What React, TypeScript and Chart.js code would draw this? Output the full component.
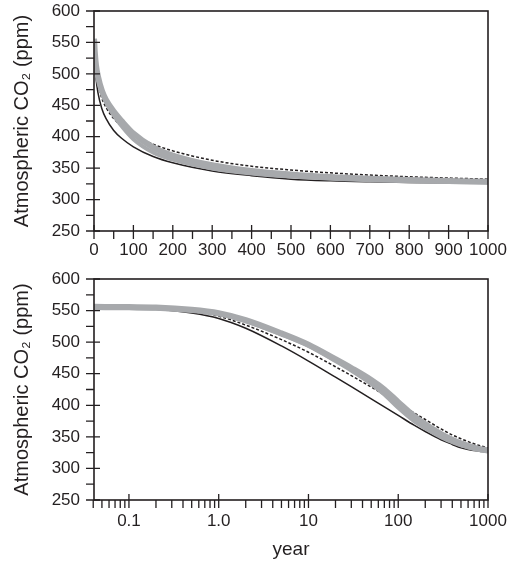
import React, { useEffect, useRef } from 'react';
import { Chart, registerables } from 'chart.js';

Chart.register(...registerables);

// ---------------- data ----------------
const years = [0.04, 0.1, 0.2, 0.5, 1, 2, 5, 10, 20, 30, 50, 70, 100, 150, 200, 300, 400, 500, 600, 700, 800, 900, 1000];
const co2Solid = [null, 554, 552, 546, 537.5, 522, 494, 470, 444.5, 429.5, 410, 397.5, 384, 368.5, 358.5, 345.5, 338, 332.5, 329.8, 328.3, 327.3, 326.6, 326];
const co2Dashed = [null, 554, 553, 548.5, 541, 527, 504, 484, 461, 447, 429, 416.5, 403.5, 388, 377.5, 362.5, 353, 347, 342.5, 339, 336.3, 334.2, 332.5];
const co2GrayBand = [556, 555.5, 555, 551.5, 546, 535, 514, 496, 473, 459, 440, 425, 405, 383, 370, 354.5, 345.5, 339.8, 335.8, 333, 331, 329.6, 328.5];
const co2WhiteLine = [554, 553.5, 553, 549.5, 544, 533, 512, 494, 470, 455, 434, 417, 396, 375, 363.5, 349.5, 341.5, 336.6, 333.2, 330.8, 329.2, 328.1, 327.3];

const yTicks = [250, 300, 350, 400, 450, 500, 550, 600];
const yMinorTicks = [275, 325, 375, 425, 475, 525, 575];
const linearXTicks = [0, 100, 200, 300, 400, 500, 600, 700, 800, 900, 1000];
const linearXMinorTicks = [50, 150, 250, 350, 450, 550, 650, 750, 850, 950];
const logXTicks = [0.1, 1, 10, 100, 1000];
const logXTickLabels = ['0.1', '1.0', '10', '100', '1000'];
const logMantissas = [2, 3, 4, 5, 6, 7, 8, 9];
const logDecades = [0.01, 0.1, 1, 10, 100];

const yTitle = 'Atmospheric CO\u2082 (ppm)';
const xTitle = 'year';

const INK = '#231f20';
const GRAY = '#a7a9ac';
const FONT = '"Liberation Sans", Arial, Helvetica, sans-serif';

const logXMinorTicks: number[] = [];
logDecades.forEach((d) => logMantissas.forEach((m) => {
  const v = +(d * m).toPrecision(3);
  if (v >= 0.04 && v <= 1000) logXMinorTicks.push(v);
}));

function pts(vals: (number | null)[]) {
  return years.map((x, i) => ({ x, y: vals[i] }));
}

function makeDatasets() {
  return [
    { data: pts(co2GrayBand), borderColor: GRAY, borderWidth: 6, pointRadius: 0, cubicInterpolationMode: 'monotone', fill: false },
    { data: pts(co2WhiteLine), borderColor: GRAY, borderWidth: 4, pointRadius: 0, cubicInterpolationMode: 'monotone', fill: false },
    { data: pts(co2WhiteLine), borderColor: '#ffffff', borderWidth: 1.8, pointRadius: 0, cubicInterpolationMode: 'monotone', fill: false },
    { data: pts(co2Dashed), borderColor: INK, borderWidth: 1.5, borderDash: [3, 2], pointRadius: 0, cubicInterpolationMode: 'monotone', fill: false },
    { data: pts(co2Solid), borderColor: INK, borderWidth: 1.5, pointRadius: 0, cubicInterpolationMode: 'monotone', fill: false },
  ];
}

function framePlugin(xMajor: number[], xMinor: number[]) {
  return {
    id: 'frameTicks',
    afterDatasetsDraw(chart: any) {
      const { ctx, chartArea: a, scales } = chart;
      const xs = scales.x;
      const ys = scales.y;
      ctx.save();
      ctx.strokeStyle = INK;
      ctx.lineWidth = 1.6;
      ctx.strokeRect(a.left, a.top, a.right - a.left, a.bottom - a.top);
      ctx.lineWidth = 1.3;
      ctx.beginPath();
      xMajor.forEach((v) => {
        const p = xs.getPixelForValue(v);
        ctx.moveTo(p, a.bottom - 6);
        ctx.lineTo(p, a.bottom + 8);
      });
      xMinor.forEach((v) => {
        const p = xs.getPixelForValue(v);
        ctx.moveTo(p, a.bottom);
        ctx.lineTo(p, a.bottom + 8);
      });
      yTicks.forEach((v) => {
        const p = ys.getPixelForValue(v);
        ctx.moveTo(a.left - 8, p);
        ctx.lineTo(a.left + 6, p);
      });
      yMinorTicks.forEach((v) => {
        const p = ys.getPixelForValue(v);
        ctx.moveTo(a.left - 8, p);
        ctx.lineTo(a.left, p);
      });
      ctx.stroke();
      ctx.restore();
    },
  };
}

const hiddenGrid = { display: true, drawOnChartArea: false, drawTicks: true, tickLength: 8, color: 'rgba(0,0,0,0)' };

function yScale() {
  return {
    type: 'linear',
    min: 250,
    max: 600,
    grid: hiddenGrid,
    border: { display: false },
    ticks: { stepSize: 50, padding: 6, color: INK, font: { size: 17, family: FONT }, callback: (v: any) => String(v) },
    afterBuildTicks: (s: any) => { s.ticks = yTicks.map((v) => ({ value: v })); },
    afterFit: (s: any) => { s.width = 94; s.paddingTop = 0; s.paddingBottom = 0; },
    title: { display: true, text: yTitle, color: INK, font: { size: 20, family: FONT }, padding: { top: 10, bottom: 0 } },
  };
}

function ChartPanel({ config, width, height, top }: any) {
  const ref = useRef<HTMLCanvasElement | null>(null);
  useEffect(() => {
    if (!ref.current) return;
    const chart = new Chart(ref.current, config());
    return () => chart.destroy();
  }, []);
  return (
    <canvas ref={ref} width={width} height={height}
      style={{ position: 'absolute', left: 0, top, width, height, display: 'block' }} />
  );
}

function topConfig(): any {
  return {
    type: 'line',
    data: { datasets: makeDatasets() },
    plugins: [framePlugin(linearXTicks, linearXMinorTicks)],
    options: {
      animation: false,
      responsive: false,
      devicePixelRatio: 1,
      layout: { padding: { left: 0, right: 22, top: 11, bottom: 0 } },
      plugins: { legend: { display: false }, tooltip: { enabled: false } },
      scales: {
        x: {
          type: 'linear',
          min: 0,
          max: 1000,
          grid: hiddenGrid,
          border: { display: false },
          ticks: { stepSize: 100, padding: 1.3, color: INK, font: { size: 17, family: FONT }, maxRotation: 0, autoSkip: false, callback: (v: any) => String(v) },
          afterBuildTicks: (s: any) => { s.ticks = linearXTicks.map((v) => ({ value: v })); },
          afterFit: (s: any) => { s.height = 39; s.paddingLeft = 0; s.paddingRight = 0; },
        },
        y: yScale(),
      },
    },
  };
}

function bottomConfig(): any {
  return {
    type: 'line',
    data: { datasets: makeDatasets() },
    plugins: [framePlugin(logXTicks, logXMinorTicks)],
    options: {
      animation: false,
      responsive: false,
      devicePixelRatio: 1,
      layout: { padding: { left: 0, right: 22, top: 9, bottom: 0 } },
      plugins: { legend: { display: false }, tooltip: { enabled: false } },
      scales: {
        x: {
          type: 'logarithmic',
          min: 0.0408,
          max: 1000,
          grid: hiddenGrid,
          border: { display: false },
          ticks: {
            padding: 3.5, color: INK, font: { size: 17, family: FONT }, maxRotation: 0, autoSkip: false,
            callback: (v: any) => {
              const i = logXTicks.findIndex((t) => Math.abs(t - v) < t * 1e-6);
              return i >= 0 ? logXTickLabels[i] : '';
            },
          },
          afterBuildTicks: (s: any) => { s.ticks = logXTicks.map((v) => ({ value: v })); },
          afterFit: (s: any) => { s.height = 63; s.paddingLeft = 0; s.paddingRight = 0; },
          title: { display: true, text: xTitle, color: INK, font: { size: 19, family: FONT }, padding: { top: 0, bottom: 1.6 } },
        },
        y: yScale(),
      },
    },
  };
}

export default function App() {
  return (
    <div style={{ position: 'fixed', left: 0, top: 0, width: 510, height: 563, background: '#ffffff' }}>
      <ChartPanel config={topConfig} width={510} height={270} top={0} />
      <ChartPanel config={bottomConfig} width={510} height={293} top={270} />
    </div>
  );
}
